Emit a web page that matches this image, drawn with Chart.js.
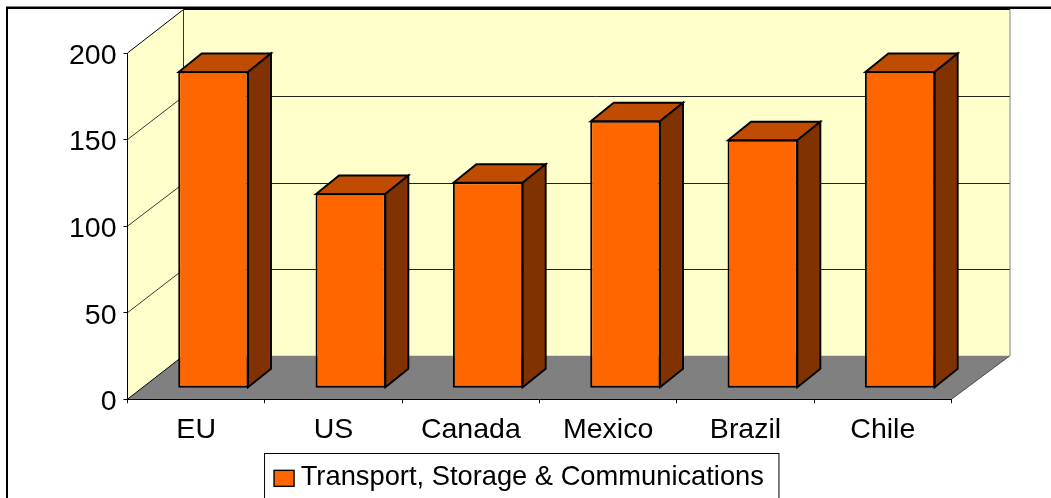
<!DOCTYPE html>
<html><head><meta charset="utf-8">
<style>html,body{margin:0;padding:0;background:#fff}canvas{display:block}</style>
<script src="https://cdn.jsdelivr.net/npm/chart.js@4"></script></head>
<body><canvas id="c" width="1051" height="498"></canvas>
<script>
const categories = ["EU","US","Canada","Mexico","Brazil","Chile"];
const seriesName = "Transport, Storage & Communications";
const seriesValues = [183,112.5,119,154.5,143.5,183];
const FRONT="#FF6600",TOP="#BF4C00",SIDE="#803300",WALL="#FFFFCC",FLOOR="#808080";
const FONT='"Liberation Sans", Arial, sans-serif', FS=27.3, AXIS_FS=28.5;
const WALL_DX=56, WALL_DY=-43.5, BAR_DX=17.2, BAR_DY=-11, DEPTH_DX=23, DEPTH_DY=-18.5;

function poly(ctx,pts,fill,stroke,lw){
  ctx.beginPath();pts.forEach((p,i)=>i?ctx.lineTo(p[0],p[1]):ctx.moveTo(p[0],p[1]));ctx.closePath();
  if(fill){ctx.fillStyle=fill;ctx.fill();}
  if(stroke){ctx.strokeStyle=stroke;ctx.lineWidth=lw;ctx.lineJoin='miter';ctx.stroke();}
}
function line(ctx,a,b,c,lw){ctx.beginPath();ctx.moveTo(a[0],a[1]);ctx.lineTo(b[0],b[1]);ctx.strokeStyle=c;ctx.lineWidth=lw;ctx.stroke();}

const box3d={
  id:'box3d',
  beforeLayout(chart){ chart.legend.afterFit=function(){this.height=48.5;}; },
  afterLayout(chart){
    const lg=chart.legend, newLeft=86.5, shift=(newLeft-lg.left)/2;
    lg.left=newLeft;
    lg.legendHitBoxes.forEach(h=>{h.left+=shift;});
  },
  beforeDraw(chart){
    const {ctx,chartArea:a,scales:{y}}=chart, l=a.left,r=a.right,t=a.top,b=a.bottom;
    const bR=r+WALL_DX+2.5;
    ctx.save();
    ctx.fillStyle='#fff';ctx.fillRect(0,0,chart.width,chart.height);
    ctx.fillStyle='#808080';ctx.fillRect(6,6,chart.width-6,1);
    ctx.fillStyle='#000';ctx.fillRect(6,7,chart.width-6,2);ctx.fillRect(6,7,2,chart.height-7);
    poly(ctx,[[l,t],[l+WALL_DX,t+WALL_DY],[l+WALL_DX,b+WALL_DY],[l,b]],WALL);
    poly(ctx,[[l+WALL_DX,t+WALL_DY],[bR,t+WALL_DY],[bR,b+WALL_DY],[l+WALL_DX,b+WALL_DY]],WALL);
    poly(ctx,[[l,b],[r,b],[bR,b+WALL_DY],[l+WALL_DX,b+WALL_DY]],FLOOR);
    y.ticks.forEach(tk=>{
      const p=y.getPixelForValue(tk.value);
      if(tk.value>0&&tk.value<y.max){
        const py=Math.round(p+WALL_DY)+0.5;
        line(ctx,[l,p],[l+WALL_DX,py],'#222',0.9);
        line(ctx,[l+WALL_DX,py],[bR,py],'#222',1);
      }
    });
    line(ctx,[l,t],[l+WALL_DX,t+WALL_DY],'#000',1);
    line(ctx,[l+WALL_DX,t+WALL_DY],[bR,t+WALL_DY],'#000',1.2);
    line(ctx,[l+WALL_DX,t+WALL_DY],[l+WALL_DX,b+WALL_DY],'#000',0.8);
    line(ctx,[bR,t+WALL_DY],[bR,b+WALL_DY],'#808080',1);
    line(ctx,[l,b],[l+WALL_DX,b+WALL_DY],'#000',1);
    line(ctx,[r,b],[bR,b+WALL_DY],'#333',0.8);
    ctx.restore();
  },
  beforeDatasetsDraw(chart){ chart.ctx.save(); chart.ctx.translate(BAR_DX,BAR_DY); },
  afterDatasetsDraw(chart){
    const ctx=chart.ctx;
    chart.getDatasetMeta(0).data.forEach(bar=>{
      const x0=bar.x-bar.width/2+0.5,x1=bar.x+bar.width/2-0.5,yt=bar.y+0.5,yb=bar.base-0.5;
      poly(ctx,[[x0,yt],[x1,yt],[x1+DEPTH_DX,yt+DEPTH_DY],[x0+DEPTH_DX,yt+DEPTH_DY]],TOP,'#000',1.9);
      poly(ctx,[[x1,yt],[x1+DEPTH_DX,yt+DEPTH_DY],[x1+DEPTH_DX,yb+DEPTH_DY],[x1,yb]],SIDE,'#000',1.9);
    });
    ctx.restore();
  },
  afterDraw(chart){
    const ctx=chart.ctx,h=chart.legend.legendHitBoxes[0];
    ctx.save();
    const cy=h.top+h.height/2+1;
    ctx.fillStyle=FRONT;ctx.strokeStyle='#000';ctx.lineWidth=1.4;
    ctx.fillRect(h.left,cy-8,20,16);ctx.strokeRect(h.left,cy-8,20,16);
    ctx.lineWidth=1;ctx.strokeStyle='#000';
    ctx.strokeRect(h.left-9.5,453.5,h.width+24.5,60);
    ctx.restore();
  }
};

new Chart(document.getElementById('c'),{
  type:'bar',
  data:{labels:categories,datasets:[{label:seriesName,data:seriesValues,backgroundColor:FRONT,borderColor:'#000',borderWidth:2,borderSkipped:false,barPercentage:0.512,categoryPercentage:1}]},
  options:{
    responsive:false,animation:false,
    layout:{padding:{left:0,right:99.5,top:53,bottom:-3}},
    plugins:{
      tooltip:{enabled:false},
      legend:{position:'bottom',labels:{boxWidth:13,boxHeight:16,padding:17,color:'#000',font:{family:FONT,size:FS},
        generateLabels(chart){
          return Chart.defaults.plugins.legend.labels.generateLabels(chart).map(it=>({...it,fillStyle:'transparent',strokeStyle:'transparent',lineWidth:0}));
        }}}
    },
    scales:{
      x:{offset:true,
        afterFit(s){s.height=47.5;},
        grid:{offset:true,drawOnChartArea:false,tickLength:4,color:'#000',lineWidth:1},
        border:{color:'#000',width:1},
        ticks:{color:'#000',padding:10,font:{family:FONT,size:AXIS_FS},maxRotation:0}},
      y:{min:0,max:200,
        afterFit(s){s.width=127.5;},
        grid:{drawOnChartArea:false,tickLength:4,color:'#000',lineWidth:1},
        border:{color:'#000',width:1},
        ticks:{stepSize:50,color:'#000',padding:7,labelOffset:3,font:{family:FONT,size:AXIS_FS}}}
    }
  },
  plugins:[box3d]
});
</script></body></html>
